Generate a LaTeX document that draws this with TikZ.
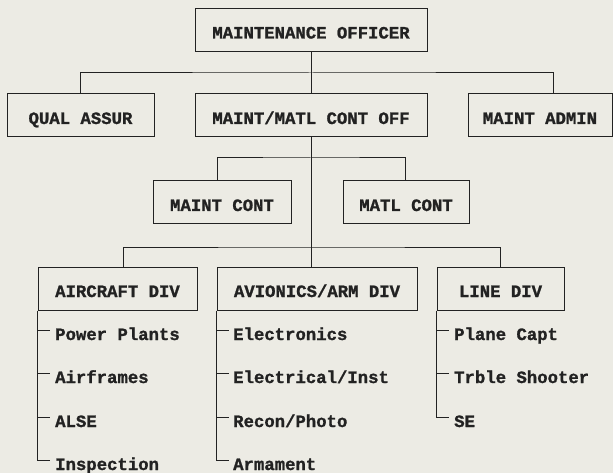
\documentclass[tikz,border=0pt]{standalone}
\usepackage{fontspec}
\setmonofont[BoldFeatures={FakeBold=1.2}]{Liberation Mono}
\usetikzlibrary{calc}
\definecolor{bg}{HTML}{ECEBE4}
\definecolor{ink}{HTML}{222222}
\tikzset{
  orgbox/.style={draw=ink, line width=1pt, inner sep=0pt, minimum height=43pt,
    text height=17pt, text depth=0pt, text=ink,
    font=\ttfamily\bfseries\fontsize{17.3pt}{20pt}\selectfont},
  listitem/.style={anchor=base west, inner sep=0pt, text height=9pt, text depth=0pt, text=ink,
    font=\ttfamily\bfseries\fontsize{17.3pt}{20pt}\selectfont},
  link/.style={draw=ink, line width=1pt},
}
\begin{document}
\begin{tikzpicture}[x=1pt,y=-1pt]
\fill[bg] (0,0) rectangle (613,473);
\useasboundingbox (0,0) rectangle (613,473);

% boxes
\node[orgbox, minimum width=232pt] (mo)  at (311,30)    {MAINTENANCE OFFICER};
\node[orgbox, minimum width=147pt] (qa)  at (80.5,115.5) {QUAL ASSUR};
\node[orgbox, minimum width=232pt] (mmc) at (311,115.5) {MAINT/MATL CONT OFF};
\node[orgbox, minimum width=144pt] (ma)  at (540,115.5) {MAINT ADMIN};
\node[orgbox, minimum width=138pt] (mc)  at (222,202.5) {MAINT CONT};
\node[orgbox, minimum width=126pt] (mtc) at (406,202.5) {MATL CONT};
\node[orgbox, minimum width=159pt] (ad)  at (117.5,288.5) {AIRCRAFT DIV};
\node[orgbox, minimum width=200pt] (av)  at (317,288.5) {AVIONICS/ARM DIV};
\node[orgbox, minimum width=127pt] (ld)  at (500.5,288.5) {LINE DIV};

% list items
\node[listitem] (ad1) at (55,340) {Power Plants};
\node[listitem] (ad2) at (55,383) {Airframes};
\node[listitem] (ad3) at (55,427) {ALSE};
\node[listitem] (ad4) at (55,470) {Inspection};
\node[listitem] (av1) at (233,340) {Electronics};
\node[listitem] (av2) at (233,383) {Electrical/Inst};
\node[listitem] (av3) at (233,427) {Recon/Photo};
\node[listitem] (av4) at (233,470) {Armament};
\node[listitem] (ld1) at (454,340) {Plane Capt};
\node[listitem] (ld2) at (454,383) {Trble Shooter};
\node[listitem] (ld3) at (454,427) {SE};

% connectors
\coordinate (b1) at (311,73);
\coordinate (b2) at (311,158);
\coordinate (b3) at (311,247);
\draw[link] (mo.south) -- (mmc.north);
\draw[link] (qa.north) |- (b1) -| ([xshift=13pt]ma.north);
\draw[link] (mmc.south) -- (mmc.south |- av.north);
\draw[link] ([xshift=-5pt]mc.north) |- (b2) -| ([xshift=-1pt]mtc.north);
\draw[link] ([xshift=5.5pt]ad.north) |- (b3) -| ([xshift=-0.5pt]ld.north);

% list spines
\draw[link] (ad.south west) |- ([xshift=-5pt]ad4.north west);
\draw[link] (av.south west) |- ([xshift=-4pt]av4.north west);
\draw[link] (ld.south west) |- ([xshift=-5pt]ld3.north west);
\foreach \i in {ad1,ad2,ad3} {\draw[link] (\i.north west -| ad.south west) -- ([xshift=-5pt]\i.north west);}
\foreach \i in {av1,av2,av3} {\draw[link] (\i.north west -| av.south west) -- ([xshift=-4pt]\i.north west);}
\foreach \i in {ld1,ld2} {\draw[link] (\i.north west -| ld.south west) -- ([xshift=-5pt]\i.north west);}
\end{tikzpicture}
\end{document}
